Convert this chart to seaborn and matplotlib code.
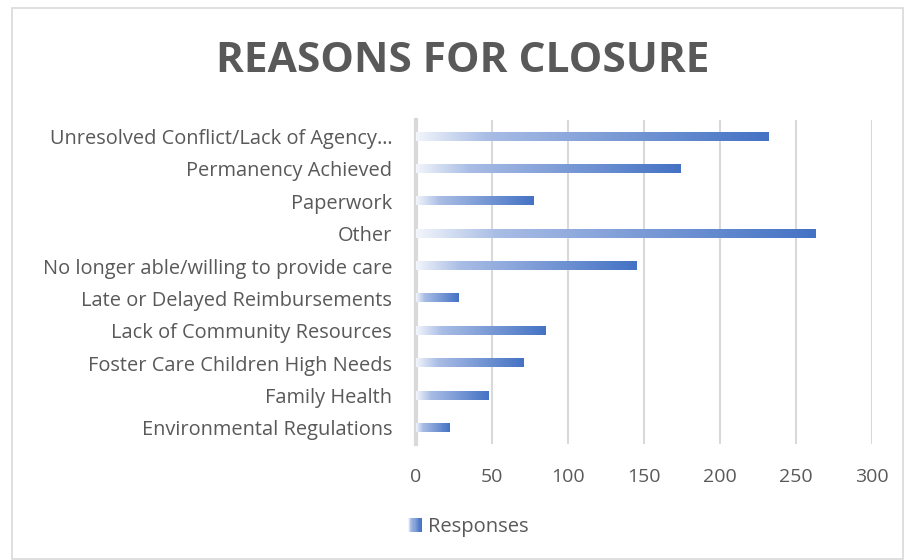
import matplotlib
matplotlib.use("Agg")
import matplotlib.pyplot as plt
import numpy as np
import pandas as pd
import seaborn as sns
from matplotlib.colors import LinearSegmentedColormap
from matplotlib.legend_handler import HandlerBase
from matplotlib.patches import Rectangle, Patch

reasons = [
    "Unresolved Conflict/Lack of Agency\u2026",
    "Permanency Achieved",
    "Paperwork",
    "Other",
    "No longer able/willing to provide care",
    "Late or Delayed Reimbursements",
    "Lack of Community Resources",
    "Foster Care Children High Needs",
    "Family Health",
    "Environmental Regulations",
]
responses = [232, 174, 77, 263, 145, 28, 85, 71, 48, 22]
x_ticks = [0, 50, 100, 150, 200, 250, 300]

df = pd.DataFrame({"reason": reasons, "Responses": responses})

BLUE = "#4472C4"
GRAY = "#595959"
GRID = "#D9D9D9"
grad = LinearSegmentedColormap.from_list(
    "xl", [(0.0, "#F2F5FB"), (0.2, "#A9BDE5"), (1.0, BLUE)])

sns.set_style("white")
plt.rcParams["font.family"] = ["Open Sans", "DejaVu Sans"]

fig = plt.figure(figsize=(9.07, 5.60), dpi=100)
ax = fig.add_axes([0.4584, 0.207, 0.503, 0.578])

sns.barplot(data=df, x="Responses", y="reason", orient="h", color=BLUE,
            width=0.25, ax=ax, zorder=2)

# gradient fill over every bar
g = np.linspace(0, 1, 256).reshape(1, -1)
for p in ax.patches:
    x0, y0 = p.get_x(), p.get_y()
    w, h = p.get_width(), p.get_height()
    ax.imshow(g, cmap=grad, aspect="auto", interpolation="bilinear",
              extent=[x0, x0 + w, y0 + h, y0], zorder=3)
    p.set_visible(False)

ax.set_xlim(0, 300)
ax.set_ylim(len(reasons) - 0.5, -0.5)
ax.set_xticks(x_ticks)
ax.xaxis.grid(True, color=GRID, linewidth=1.5, zorder=0)
ax.yaxis.grid(False)
for s in ["top", "right", "bottom"]:
    ax.spines[s].set_visible(False)
ax.spines["left"].set_color(GRID)
ax.spines["left"].set_linewidth(3)
ax.set_xlabel("")
ax.set_ylabel("")
ax.tick_params(axis="y", length=0, pad=17, labelsize=14.4, labelcolor=GRAY)
ax.tick_params(axis="x", length=0, pad=17, labelsize=14, labelcolor=GRAY)

fig.text(0.51, 0.890, "REASONS FOR CLOSURE", ha="center", va="center",
         fontsize=30.5, fontweight="bold", color=GRAY)


class GradHandler(HandlerBase):
    def create_artists(self, legend, orig_handle, xdescent, ydescent,
                       width, height, fontsize, trans):
        n = 12
        side = height * 1.0
        x0 = width - side
        arts = []
        for i in range(n):
            r = Rectangle((x0 - xdescent + side * i / n, -ydescent),
                          side / n + 0.05, side,
                          facecolor=grad(i / (n - 1)), edgecolor="none",
                          transform=trans)
            arts.append(r)
        return arts


h = Patch(color=BLUE)
leg = fig.legend([h], ["Responses"], loc="center",
                 bbox_to_anchor=(467 / 907, 1 - 527 / 560), frameon=False,
                 fontsize=14.5, handler_map={Patch: GradHandler()},
                 handlelength=0.8, handletextpad=0.3)
for t in leg.get_texts():
    t.set_color(GRAY)

fig.patches.append(Rectangle((12 / 907, 0.002), 0.996 - 12 / 907,
                             1 - 8 / 560 - 0.002, transform=fig.transFigure,
                             fill=False, edgecolor=GRID, linewidth=1.2))

fig.savefig("out.png", dpi=100)
